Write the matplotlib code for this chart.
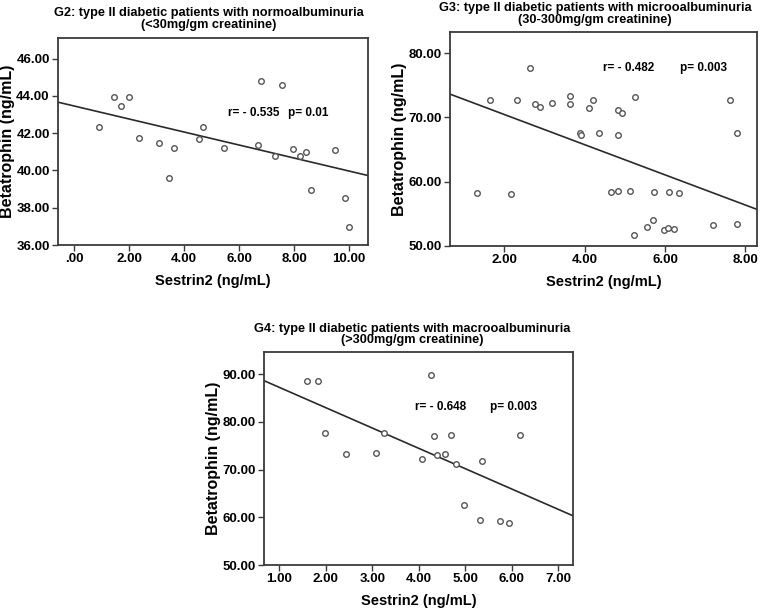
import matplotlib.pyplot as plt
import numpy as np
from matplotlib.ticker import FuncFormatter

plt.rcParams['font.family'] = ['Liberation Sans', 'DejaVu Sans']
plt.rcParams['font.weight'] = 'bold'

# ---------------- data ----------------
g2_sestrin = [0.92, 1.47, 1.70, 2.00, 2.36, 3.10, 3.45, 3.62, 4.53, 4.68, 5.45,
              6.69, 6.79, 7.32, 7.55, 7.96, 8.21, 8.43, 8.62, 9.50, 9.85, 10.00]
g2_betatrophin = [42.31, 43.95, 43.47, 43.94, 41.72, 41.45, 39.61, 41.20, 41.67, 42.31, 41.18,
                  41.35, 44.79, 40.75, 44.58, 41.17, 40.75, 40.97, 38.95, 41.08, 38.52, 36.97]

g3_sestrin = [1.64, 2.32, 2.63, 2.77, 2.88, 3.20, 3.63, 3.64, 4.12, 4.21, 3.88, 3.91, 4.37,
              4.82, 4.94, 4.82, 5.25, 7.62, 7.78,
              1.32, 2.16, 4.66, 4.84, 5.13, 5.73, 6.10, 6.34,
              5.22, 5.56, 5.71, 5.97, 6.07, 6.22, 7.19, 7.78]
g3_betatrophin = [72.79, 72.74, 77.68, 72.17, 71.65, 72.32, 73.31, 72.17, 71.55, 72.74, 67.65, 67.24, 67.65,
                  71.18, 70.72, 67.24, 73.16, 72.79, 67.65,
                  58.26, 58.10, 58.36, 58.52, 58.52, 58.36, 58.36, 58.31,
                  51.71, 52.96, 54.10, 52.44, 52.75, 52.70, 53.32, 53.38]

g4_sestrin = [1.60, 1.83, 1.99, 2.44, 3.09, 3.26, 4.26, 4.08, 4.32, 4.40, 4.57, 4.70,
              4.80, 5.36, 6.18, 4.98, 5.32, 5.74, 5.94]
g4_betatrophin = [88.60, 88.66, 77.77, 73.25, 73.46, 77.77, 89.92, 72.26, 77.02, 73.16, 73.37, 77.22,
                  71.21, 71.90, 77.22, 62.56, 59.42, 59.21, 58.71]

titles = ['G2: type II diabetic patients with normoalbuminuria\n(<30mg/gm creatinine)',
          'G3: type II diabetic patients with microoalbuminuria\n(30-300mg/gm creatinine)',
          'G4: type II diabetic patients with macrooalbuminuria\n(>300mg/gm creatinine)']
r_labels = ['r= - 0.535', 'r= - 0.482', 'r= - 0.648']
p_labels = ['p= 0.01', 'p= 0.003', 'p= 0.003']

W, H = 762, 611
fig = plt.figure(figsize=(W / 100, H / 100), dpi=100)


def px_box(left, top, right, bottom):
    return [left / W, 1 - bottom / H, (right - left) / W, (bottom - top) / H]


def spss_fmt(v, pos):
    s = f'{v:.2f}'
    if s.startswith('0.'):
        s = s[1:]
    return s


def draw_panel(box, x, y, xlim, ylim, xticks, yticks, title, title_xy,
               r_text, p_text, r_xy, p_xy):
    ax = fig.add_axes(px_box(*box))
    ax.scatter(x, y, s=16, facecolors='white', edgecolors='#555555', linewidths=1.0, zorder=3)
    slope, icpt = np.polyfit(x, y, 1)
    xs = np.array(xlim)
    ax.plot(xs, icpt + slope * xs, color='#2a2a2a', lw=1.2, zorder=2)
    ax.set_xlim(xlim)
    ax.set_ylim(ylim)
    ax.set_xticks(xticks)
    ax.set_yticks(yticks)
    ax.xaxis.set_major_formatter(FuncFormatter(spss_fmt))
    ax.yaxis.set_major_formatter(FuncFormatter(spss_fmt))
    ax.tick_params(direction='out', length=4, width=1.0, color='#3a3a3a',
                   labelsize=9.5, pad=2)
    for sp in ax.spines.values():
        sp.set_color('#3a3a3a')
        sp.set_linewidth(1.3)
    ax.set_xlabel('Sestrin2 (ng/mL)', fontsize=10.5, fontweight='bold', labelpad=6)
    ax.set_ylabel('Betatrophin (ng/mL)', fontsize=11.5, fontweight='bold')
    ax.yaxis.set_label_coords(-0.14, 0.5)
    ax.text(r_xy[0], r_xy[1], r_text, fontsize=8.5, fontweight='bold', va='center')
    ax.text(p_xy[0], p_xy[1], p_text, fontsize=8.5, fontweight='bold', va='center')
    fig.text(title_xy[0] / W, 1 - title_xy[1] / H, title, ha='center', va='center',
             fontsize=9.2, fontweight='bold', linespacing=0.95)
    return ax


draw_panel((58, 38, 368, 245), g2_sestrin, g2_betatrophin, (-0.58, 10.69), (36, 47.1),
           [0, 2, 4, 6, 8, 10], [36, 38, 40, 42, 44, 46], titles[0], (209, 19),
           r_labels[0], p_labels[0], (5.61, 43.06), (7.79, 43.06))

draw_panel((450, 32, 757, 246), g3_sestrin, g3_betatrophin, (0.65, 8.29), (50, 83.3),
           [2, 4, 6, 8], [50, 60, 70, 80], titles[1], (595, 14),
           r_labels[1], p_labels[1], (4.45, 77.68), (6.37, 77.68))

draw_panel((264, 352, 573, 565), g4_sestrin, g4_betatrophin, (0.67, 7.32), (50, 94.67),
           [1, 2, 3, 4, 5, 6, 7], [50, 60, 70, 80, 90], titles[2], (412, 334.5),
           r_labels[2], p_labels[2], (3.92, 83.21), (5.53, 83.21))

fig.savefig('out.png', dpi=100, facecolor='white')
